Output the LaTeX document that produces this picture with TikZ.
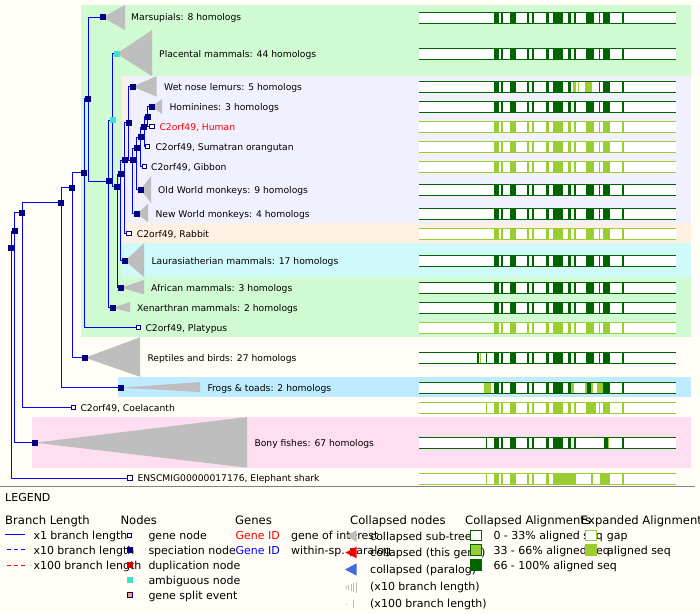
\documentclass[tikz,border=0pt]{standalone}
\usepackage{fontspec}
\setmainfont{DejaVu Sans}
\pgfdeclarelayer{bands}
\pgfdeclarelayer{edges}
\pgfsetlayers{bands,edges,main}
\definecolor{bgc}{RGB}{255,253,246}
\definecolor{bandgreen}{RGB}{208,250,210}
\definecolor{bandlav}{RGB}{240,240,255}
\definecolor{bandpeach}{RGB}{255,240,226}
\definecolor{bandcyan}{RGB}{208,250,250}
\definecolor{bandblue}{RGB}{190,236,254}
\definecolor{bandpink}{RGB}{254,222,240}
\definecolor{navyc}{RGB}{0,0,128}
\definecolor{ambig}{RGB}{64,224,208}
\definecolor{dkg}{RGB}{0,100,0}
\definecolor{ltg}{RGB}{154,205,50}
\definecolor{trig}{RGB}{190,190,190}
\definecolor{branchc}{RGB}{0,0,255}
\definecolor{dupc}{RGB}{210,0,0}
\definecolor{splitc}{RGB}{245,165,100}
\definecolor{paralogc}{RGB}{65,105,225}
\definecolor{sepc}{RGB}{130,130,130}
\definecolor{markc}{RGB}{185,185,185}
\newcommand\ftree{\fontsize{9.2}{11}\selectfont}
\newcommand\fleg{\fontsize{11}{13}\selectfont}
\newcommand\fhead{\fontsize{11.6}{14}\selectfont}
\newcommand\blk[3]{\edef\tmplist{#3}\foreach \a/\b in \tmplist {\fill[#2] (\a,#1-5.5) rectangle (\b,#1+5.5);}}
\newcommand\barbox[1]{\fill[white] (419,#1-5.5) rectangle (676,#1+5.5);}
\newcommand\barlines[2]{\draw[#2, line width=1pt] (419,#1-5.5) -- (676,#1-5.5) (419,#1+5.5) -- (676,#1+5.5);}
\def\stdlist{494/499.3,501.3/502.7,510/515.7,527.3/529.3,531.7/534,546/548.7,553/562.7,568.3/570.7,573.7/575.7,586.3/594,598.7/600,603.3/609.7,622/623.7}
\newcommand\stdbar[2]{\barbox{#1}\blk{#1}{#2}{\stdlist}\barlines{#1}{#2}}
\tikzset{
  spec/.style={rectangle, fill=navyc, draw=none, minimum size=6pt, inner sep=0pt},
  amb/.style={rectangle, fill=ambig, draw=none, minimum size=6pt, inner sep=0pt},
  genenode/.style={rectangle, fill=white, draw=navyc, line width=1pt, minimum size=4.5pt, inner sep=0pt},
  lbl/.style={anchor=base west, inner sep=0pt, font=\ftree, text=black},
  leg/.style={anchor=base west, inner sep=0pt, font=\fleg, text=black},
  head/.style={anchor=base west, inner sep=0pt, font=\fhead, text=black},
  branch/.style={draw=branchc, line width=1pt},
  tri/.style={fill=trig, draw=none},
}
\begin{document}
\begin{tikzpicture}[x=1pt,y=-1pt]
\useasboundingbox (0,0) rectangle (700,614);
\begin{pgfonlayer}{bands}
\fill[bgc] (0,0) rectangle (700,614);
\fill[bandgreen] (81,5) rectangle (691,336.7);
\fill[bandpeach] (121.7,76) rectangle (691,242.7);
\fill[bandlav] (125.7,76) rectangle (691,223.3);
\fill[bandcyan] (122,242.7) rectangle (691,276.7);
\fill[bandblue] (118,376.7) rectangle (691,397);
\fill[bandpink] (32,417) rectangle (691,467.7);
\draw[sepc, line width=1pt] (0,486) -- (695,486);
\end{pgfonlayer}

% internal nodes
\node[spec] (root) at (11,247.7) {};
\node[spec] (n1) at (14.7,231) {};
\node[spec] (n2) at (22,212.7) {};
\node[spec] (n3) at (61.3,202.7) {};
\node[spec] (n4) at (72.3,187.7) {};
\node[spec] (n5) at (84,172.7) {};
\node[spec] (n6) at (88,98.7) {};
\node[spec] (n7) at (108.7,181) {};
\node[amb]  (n8) at (112.7,120) {};
\node[spec] (n9) at (117,186.7) {};
\node[spec] (n10) at (120.7,174) {};
\node[spec] (n11) at (124.7,160) {};
\node[spec] (n12) at (128.7,122.7) {};
\node[spec] (n13) at (132.7,160) {};
\node[spec] (n14) at (136.7,148) {};
\node[spec] (n15) at (140.7,137) {};
\node[spec] (n16) at (144.3,127) {};
\node[spec] (n17) at (147.7,116.7) {};
% leaves
\node[spec] (marsup) at (102.7,17.3) {};
\node[amb]  (placental) at (116.7,53.7) {};
\node[spec] (wetnose) at (132.7,86.7) {};
\node[spec] (homin) at (151.7,106.7) {};
\node[genenode] (human) at (152,126.7) {};
\node[genenode] (orang) at (147.7,146.7) {};
\node[genenode] (gibbon) at (144.3,166.7) {};
\node[spec] (owm) at (140.7,189.7) {};
\node[spec] (nwm) at (136.7,213.7) {};
\node[genenode] (rabbit) at (129,233.7) {};
\node[spec] (laur) at (125,260.7) {};
\node[spec] (afric) at (120.7,287.7) {};
\node[spec] (xenar) at (112.7,307.7) {};
\node[genenode] (platy) at (138.7,327.7) {};
\node[spec] (rept) at (85,357.7) {};
\node[spec] (frogs) at (120.7,387.7) {};
\node[genenode] (coel) at (73.3,407.7) {};
\node[spec] (bony) at (35,442.7) {};
\node[genenode] (shark) at (130,478) {};

\begin{pgfonlayer}{edges}
\fill[tri] (marsup.center) -- (125,5) -- (125,30) -- cycle;
\fill[tri] (placental.center) -- (152,30) -- (152,76) -- cycle;
\fill[tri] (wetnose.center) -- (156.7,76) -- (156.7,96.7) -- cycle;
\fill[tri] (homin.center) -- (162,99) -- (162,114) -- cycle;
\fill[tri] (owm.center) -- (151,176) -- (151,203) -- cycle;
\fill[tri] (nwm.center) -- (148,204) -- (148,222) -- cycle;
\fill[tri] (laur.center) -- (144,243.3) -- (144,277) -- cycle;
\fill[tri] (afric.center) -- (144,280) -- (144,294.3) -- cycle;
\fill[tri] (xenar.center) -- (130,302) -- (130,312.3) -- cycle;
\fill[tri] (rept.center) -- (140,337.3) -- (140,376.7) -- cycle;
\fill[tri] (frogs.center) -- (200,382) -- (200,392) -- cycle;
\fill[tri] (bony.center) -- (247,417) -- (247,467.7) -- cycle;
\foreach \p/\c in {root/n1,root/shark,n1/n2,n1/bony,n2/n3,n2/coel,n3/n4,n3/frogs,
  n4/n5,n4/rept,n5/n6,n5/platy,n6/marsup,n6/n7,n7/n8,n7/xenar,n8/placental,n8/n9,
  n9/n10,n9/afric,n10/n11,n10/laur,n11/n12,n11/rabbit,n12/wetnose,n12/n13,
  n13/n14,n13/nwm,n14/n15,n14/owm,n15/n16,n15/gibbon,n16/n17,n16/orang,
  n17/homin,n17/human}
  {\draw[branch] (\p.center) |- (\c.center);}
\end{pgfonlayer}

% labels
\node[lbl] (tmarsup) at (131,20.7) {Marsupials: 8 homologs};
\node[lbl] (tplacental) at (159,57.1) {Placental mammals: 44 homologs};
\node[lbl] (twetnose) at (164,90.1) {Wet nose lemurs: 5 homologs};
\node[lbl] (thomin) at (169.3,110.1) {Hominines: 3 homologs};
\node[lbl, text=red] (thuman) at (159.3,130.1) {C2orf49, Human};
\node[lbl] (torang) at (155.3,150.1) {C2orf49, Sumatran orangutan};
\node[lbl] (tgibbon) at (151,170.1) {C2orf49, Gibbon};
\node[lbl] (towm) at (158,193.1) {Old World monkeys: 9 homologs};
\node[lbl] (tnwm) at (155.3,217.1) {New World monkeys: 4 homologs};
\node[lbl] (trabbit) at (136.7,237.1) {C2orf49, Rabbit};
\node[lbl] (tlaur) at (151.3,264.1) {Laurasiatherian mammals: 17 homologs};
\node[lbl] (tafric) at (151,291.1) {African mammals: 3 homologs};
\node[lbl] (txenar) at (137,311.1) {Xenarthran mammals: 2 homologs};
\node[lbl] (tplaty) at (145.3,331.1) {C2orf49, Platypus};
\node[lbl] (trept) at (147.3,361.1) {Reptiles and birds: 27 homologs};
\node[lbl] (tfrogs) at (207.3,391.1) {Frogs \& toads: 2 homologs};
\node[lbl] (tcoel) at (80.3,411.1) {C2orf49, Coelacanth};
\node[lbl] (tbony) at (254.3,446.1) {Bony fishes: 67 homologs};
\node[lbl] (tshark) at (137.3,481.4) {ENSCMIG00000017176, Elephant shark};

% alignment bars
\stdbar{17.5}{dkg}
\stdbar{53.8}{dkg}
\barbox{86.5}
\blk{86.5}{dkg}{494/499.3,501.3/502.7,510/515.7,527.3/529.3,531.7/534,546/548.7,553/562.7,568.3/570.7,598.7/600,603.3/609.7,622/623.7}
\blk{86.5}{ltg}{573/576,577.7/578.7,585/592}
\barlines{86.5}{dkg}
\stdbar{106.8}{dkg}
\stdbar{126.8}{ltg}
\stdbar{146.8}{ltg}
\stdbar{166.8}{ltg}
\stdbar{189.5}{dkg}
\stdbar{213.8}{dkg}
\stdbar{233.8}{ltg}
\stdbar{260.8}{dkg}
\stdbar{287.8}{dkg}
\stdbar{307.8}{dkg}
\stdbar{327.8}{ltg}
\barbox{357.8}
\blk{357.8}{dkg}{\stdlist}
\blk{357.8}{dkg}{477.3/478.5,485.7/487}
\blk{357.8}{ltg}{479.8/480.8}
\barlines{357.8}{dkg}
\barbox{387.5}
\blk{387.5}{dkg}{494/499.3,501.3/502.7,510/515.7,527.3/529.3,531.7/534,546/548.7,553/562.7,568.3/570.7,587.3/590.7,602.7/610,622/623.7}
\blk{387.5}{ltg}{484/491.3,571/573.7,585/587.3,590.7/593.3,596.7/602.7}
\barlines{387.5}{dkg}
\barbox{407.5}
\blk{407.5}{ltg}{485.7/487,494/499.3,501.3/502.7,510/515.7,527.3/529.3,531.7/534,546/548.7,553/562.7,568.3/570.7,573.7/575.7,586/596,598.7/600,603.3/609.7,622/623.7}
\barlines{407.5}{ltg}
\barbox{442.5}
\blk{442.5}{dkg}{485.7/487,494/499.3,501.3/502.7,510/515.7,527.3/529.3,531.7/534,546/548.7,553/563.3,568.3/570.7,573.7/575.7,604/607.7,622/623.7}
\blk{442.5}{ltg}{607.7/609.3}
\barlines{442.5}{dkg}
\barbox{478.8}
\blk{478.8}{ltg}{485.7/487,494/499.3,501.3/502.7,510/515.7,527.3/529.3,531.7/534,546/548.7,553/576,591/593.3,600/610,622/623.7}
\barlines{478.8}{ltg}

% legend
\node[leg] (legend) at (5,501) {LEGEND};
\node[head] (hbranch) at (5,524) {Branch Length};
\node[head] (hnodes) at (120.3,524) {Nodes};
\node[head] (hgenes) at (235,524) {Genes};
\node[head] (hcoll) at (350,524) {Collapsed nodes};
\node[head] (hcalign) at (465,524) {Collapsed Alignments};
\node[head] (healign) at (580.7,524) {Expanded Alignments};

\coordinate (bl1a) at (5,534.5); \coordinate (bl1b) at (25,534.5);
\coordinate (bl2a) at (6.7,549.5); \coordinate (bl2b) at (25,549.5);
\coordinate (bl3a) at (6.7,565); \coordinate (bl3b) at (25,565);
\draw[branchc, line width=1pt] (bl1a) -- (bl1b);
\draw[branchc, line width=1pt, dash pattern=on 4pt off 3.2pt] (bl2a) -- (bl2b);
\draw[red, line width=1pt, dash pattern=on 4pt off 3.2pt] (bl3a) -- (bl3b);
\node[leg] (lb1) at (33.3,539) {x1 branch length};
\node[leg] (lb2) at (33.3,554) {x10 branch length};
\node[leg] (lb3) at (33.3,569) {x100 branch length};

\node[genenode] (ln1) at (129.7,535.5) {};
\node[spec] (ln2) at (130,550) {};
\node[rectangle, fill=dupc, minimum size=6pt, inner sep=0pt] (ln3) at (130,565) {};
\node[amb] (ln4) at (130,580) {};
\node[rectangle, fill=splitc, draw=navyc, line width=1pt, minimum size=5pt, inner sep=0pt] (ln5) at (130,595) {};
\node[leg] (lt1) at (148.3,539) {gene node};
\node[leg] (lt2) at (148.3,554) {speciation node};
\node[leg] (lt3) at (148.3,569) {duplication node};
\node[leg] (lt4) at (148.3,584) {ambiguous node};
\node[leg] (lt5) at (148.3,599) {gene split event};

\node[leg, text=red] (lg1) at (235.3,539) {Gene ID};
\node[leg, text=branchc] (lg2) at (235.3,554) {Gene ID};
\node[leg] (lg3) at (291,539) {gene of interest};
\node[leg] (lg4) at (291,554) {within-sp. paralog};

\coordinate (ct1) at (346,536);
\coordinate (ct2) at (345.3,552.5);
\coordinate (ct3) at (345,569.5);
\fill[trig] (ct1) -- (356.7,530) -- (356.7,542) -- cycle;
\fill[red] (ct2) -- (356.7,546.7) -- (356.7,558.3) -- cycle;
\fill[paralogc] (ct3) -- (356.7,563.3) -- (356.7,575.7) -- cycle;
\foreach \xx/\hh in {346/1.5,348.5/2.5,351/3.5,353.5/4.5,356/5.5}
  {\draw[markc, line width=0.8pt] (\xx,587-\hh) -- (\xx,587+\hh);}
\draw[markc, line width=0.8pt] (346.5,603.5) -- (346.5,605);
\draw[markc, line width=0.8pt] (353.5,600) -- (353.5,608);
\node[leg] (lc1) at (370,540) {collapsed sub-tree};
\node[leg] (lc2) at (370,556.7) {collapsed (this gene)};
\node[leg] (lc3) at (370,573.7) {collapsed (paralog)};
\node[leg] (lc4) at (370,590.3) {(x10 branch length)};
\node[leg] (lc5) at (370,607.3) {(x100 branch length)};

\node[rectangle, fill=white, draw=dkg, line width=1pt, minimum width=11pt, minimum height=10.5pt, inner sep=0pt] (la1) at (475.5,535.5) {};
\node[rectangle, fill=ltg, draw=dkg, line width=1pt, minimum width=11pt, minimum height=10.5pt, inner sep=0pt] (la2) at (475.5,550) {};
\node[rectangle, fill=dkg, minimum width=12pt, minimum height=12pt, inner sep=0pt] (la3) at (475.5,565.3) {};
\node[leg] (lat1) at (493.3,539) {0 - 33\% aligned seq};
\node[leg] (lat2) at (493.3,554) {33 - 66\% aligned seq};
\node[leg] (lat3) at (493.3,569) {66 - 100\% aligned seq};

\node[rectangle, fill=white, draw=ltg, line width=1pt, minimum width=11pt, minimum height=10.5pt, inner sep=0pt] (le1) at (590.5,535.5) {};
\node[rectangle, fill=ltg, minimum width=12pt, minimum height=12pt, inner sep=0pt] (le2) at (590.5,550) {};
\node[leg] (let1) at (606.7,539) {gap};
\node[leg] (let2) at (607,554) {aligned seq};
\end{tikzpicture}
\end{document}
